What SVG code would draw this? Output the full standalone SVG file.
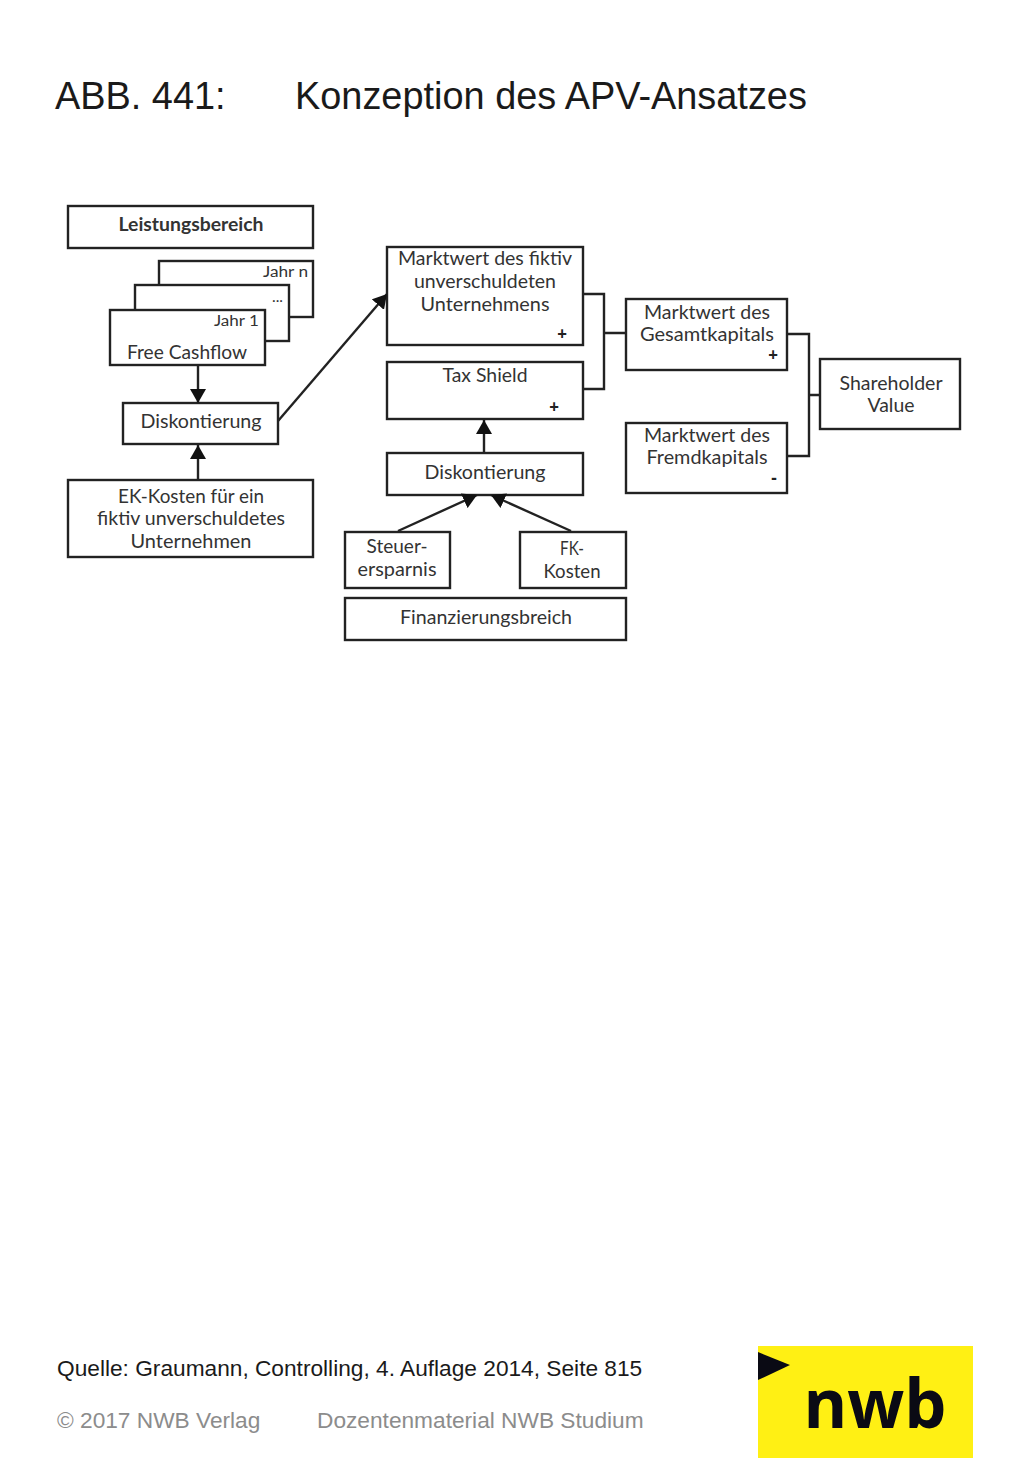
<svg xmlns="http://www.w3.org/2000/svg" width="1024" height="1479" viewBox="0 0 1024 1479">
<style>
.b{fill:#fff;stroke:#222;stroke-width:2.4}
.c{fill:none;stroke:#222;stroke-width:2.4}
.t{font-family:Lato,"Open Sans",sans-serif;font-size:19px;fill:#333;text-anchor:middle}
.s{font-family:Lato,"Open Sans",sans-serif;font-size:15.5px;fill:#333;text-anchor:end}
.p{font-family:"Open Sans","Noto Sans",sans-serif;font-size:17px;font-weight:700;fill:#222;text-anchor:middle}
.h{font-family:"Liberation Sans",Arial,sans-serif;font-size:37.9px;fill:#1a1a1a}
.f{font-family:"Liberation Sans",Arial,sans-serif;font-size:22.7px}
</style>
<defs><marker id="a" markerUnits="userSpaceOnUse" markerWidth="15" markerHeight="16" refX="14" refY="8" orient="auto"><path d="M0 0L14 8L0 16Z" fill="#111"/></marker></defs>
<rect width="1024" height="1479" fill="#fff"/>
<g id="title"><text class="h" x="55" y="109">ABB. 441:</text><text class="h" x="295" y="109">Konzeption des APV-Ansatzes</text></g>
<g id="leistungsbereich"><rect class="b" x="68" y="206" width="245" height="42"/><text class="t" x="191" y="231" style="font-weight:700" textLength="145" lengthAdjust="spacingAndGlyphs">Leistungsbereich</text></g>
<g id="jahr-n"><rect class="b" x="159" y="261" width="154" height="56"/><text class="s" x="308" y="277" textLength="45" lengthAdjust="spacingAndGlyphs">Jahr n</text></g>
<g id="jahr-mid"><rect class="b" x="135" y="285" width="154" height="56"/><text class="s" x="283" y="302">...</text></g>
<g id="jahr-1"><rect class="b" x="110" y="310" width="155" height="55"/><text class="s" x="259" y="326" textLength="45" lengthAdjust="spacingAndGlyphs">Jahr 1</text><text class="t" x="187" y="359" textLength="120" lengthAdjust="spacingAndGlyphs">Free Cashflow</text></g>
<g id="diskontierung-1"><rect class="b" x="123" y="403" width="155" height="41"/><text class="t" x="201" y="428" textLength="121" lengthAdjust="spacingAndGlyphs">Diskontierung</text></g>
<g id="ek-kosten"><rect class="b" x="68" y="480" width="245" height="77"/><text class="t" x="191" y="503" textLength="146" lengthAdjust="spacingAndGlyphs">EK-Kosten für ein</text><text class="t" x="191" y="525" textLength="188" lengthAdjust="spacingAndGlyphs">fiktiv unverschuldetes</text><text class="t" x="191" y="548" textLength="121" lengthAdjust="spacingAndGlyphs">Unternehmen</text></g>
<g id="marktwert-unverschuldet"><rect class="b" x="387" y="247" width="196" height="98"/><text class="t" x="485" y="265" textLength="174" lengthAdjust="spacingAndGlyphs">Marktwert des fiktiv</text><text class="t" x="485" y="288" textLength="142" lengthAdjust="spacingAndGlyphs">unverschuldeten</text><text class="t" x="485" y="311" textLength="129" lengthAdjust="spacingAndGlyphs">Unternehmens</text><text class="p" x="562" y="340">+</text></g>
<g id="tax-shield"><rect class="b" x="387" y="362" width="196" height="57"/><text class="t" x="485" y="382" textLength="85" lengthAdjust="spacingAndGlyphs">Tax Shield</text><text class="p" x="554" y="413">+</text></g>
<g id="diskontierung-2"><rect class="b" x="387" y="453" width="196" height="42"/><text class="t" x="485" y="479" textLength="121" lengthAdjust="spacingAndGlyphs">Diskontierung</text></g>
<g id="steuerersparnis"><rect class="b" x="345" y="532" width="105" height="56"/><text class="t" x="397" y="553" textLength="61" lengthAdjust="spacingAndGlyphs">Steuer-</text><text class="t" x="397" y="576" textLength="79" lengthAdjust="spacingAndGlyphs">ersparnis</text></g>
<g id="fk-kosten"><rect class="b" x="520" y="532" width="106" height="56"/><text class="t" x="572" y="555" textLength="24" lengthAdjust="spacingAndGlyphs">FK-</text><text class="t" x="572" y="578" textLength="57" lengthAdjust="spacingAndGlyphs">Kosten</text></g>
<g id="finanzierungsbereich"><rect class="b" x="345" y="598" width="281" height="42"/><text class="t" x="486" y="624" textLength="172" lengthAdjust="spacingAndGlyphs">Finanzierungsbreich</text></g>
<g id="marktwert-gesamtkapital"><rect class="b" x="626" y="299" width="161" height="71"/><text class="t" x="707" y="319" textLength="126" lengthAdjust="spacingAndGlyphs">Marktwert des</text><text class="t" x="707" y="341" textLength="134" lengthAdjust="spacingAndGlyphs">Gesamtkapitals</text><text class="p" x="773" y="361">+</text></g>
<g id="marktwert-fremdkapital"><rect class="b" x="626" y="423" width="161" height="70"/><text class="t" x="707" y="442" textLength="126" lengthAdjust="spacingAndGlyphs">Marktwert des</text><text class="t" x="707" y="464" textLength="121" lengthAdjust="spacingAndGlyphs">Fremdkapitals</text><text class="p" x="774" y="484">-</text></g>
<g id="shareholder-value"><rect class="b" x="820" y="359" width="140" height="70"/><text class="t" x="891" y="390" textLength="103" lengthAdjust="spacingAndGlyphs">Shareholder</text><text class="t" x="891" y="412" textLength="47" lengthAdjust="spacingAndGlyphs">Value</text></g>
<g id="connectors">
<path class="c" d="M198 365V403" marker-end="url(#a)"/>
<path class="c" d="M198 480V445" marker-end="url(#a)"/>
<path class="c" d="M278 421L387 294" marker-end="url(#a)"/>
<path class="c" d="M484 453V420" marker-end="url(#a)"/>
<path class="c" d="M398 531L477 495" marker-end="url(#a)"/>
<path class="c" d="M571 531L491 495" marker-end="url(#a)"/>
<path class="c" d="M583 294H604V389H583M604 333H626"/>
<path class="c" d="M787 334H809V456H787M809 395H820"/>
</g>
<g id="footer"><text class="f" x="57" y="1376" fill="#1a1a1a">Quelle: Graumann, Controlling, 4. Auflage 2014, Seite 815</text><text class="f" x="57" y="1428" fill="#8c8c8c">© 2017 NWB Verlag</text><text class="f" x="317" y="1428" fill="#8c8c8c">Dozentenmaterial NWB Studium</text></g>
<g id="logo"><rect x="758" y="1346" width="215" height="112" fill="#fff014"/><path d="M758 1352L790 1365L758 1380Z" fill="#0a0a14"/><text x="875" y="1428" font-family="Open Sans,Noto Sans,sans-serif" font-size="68" font-weight="700" fill="#0a0a14" text-anchor="middle" textLength="143" lengthAdjust="spacingAndGlyphs">nwb</text></g>
</svg>
